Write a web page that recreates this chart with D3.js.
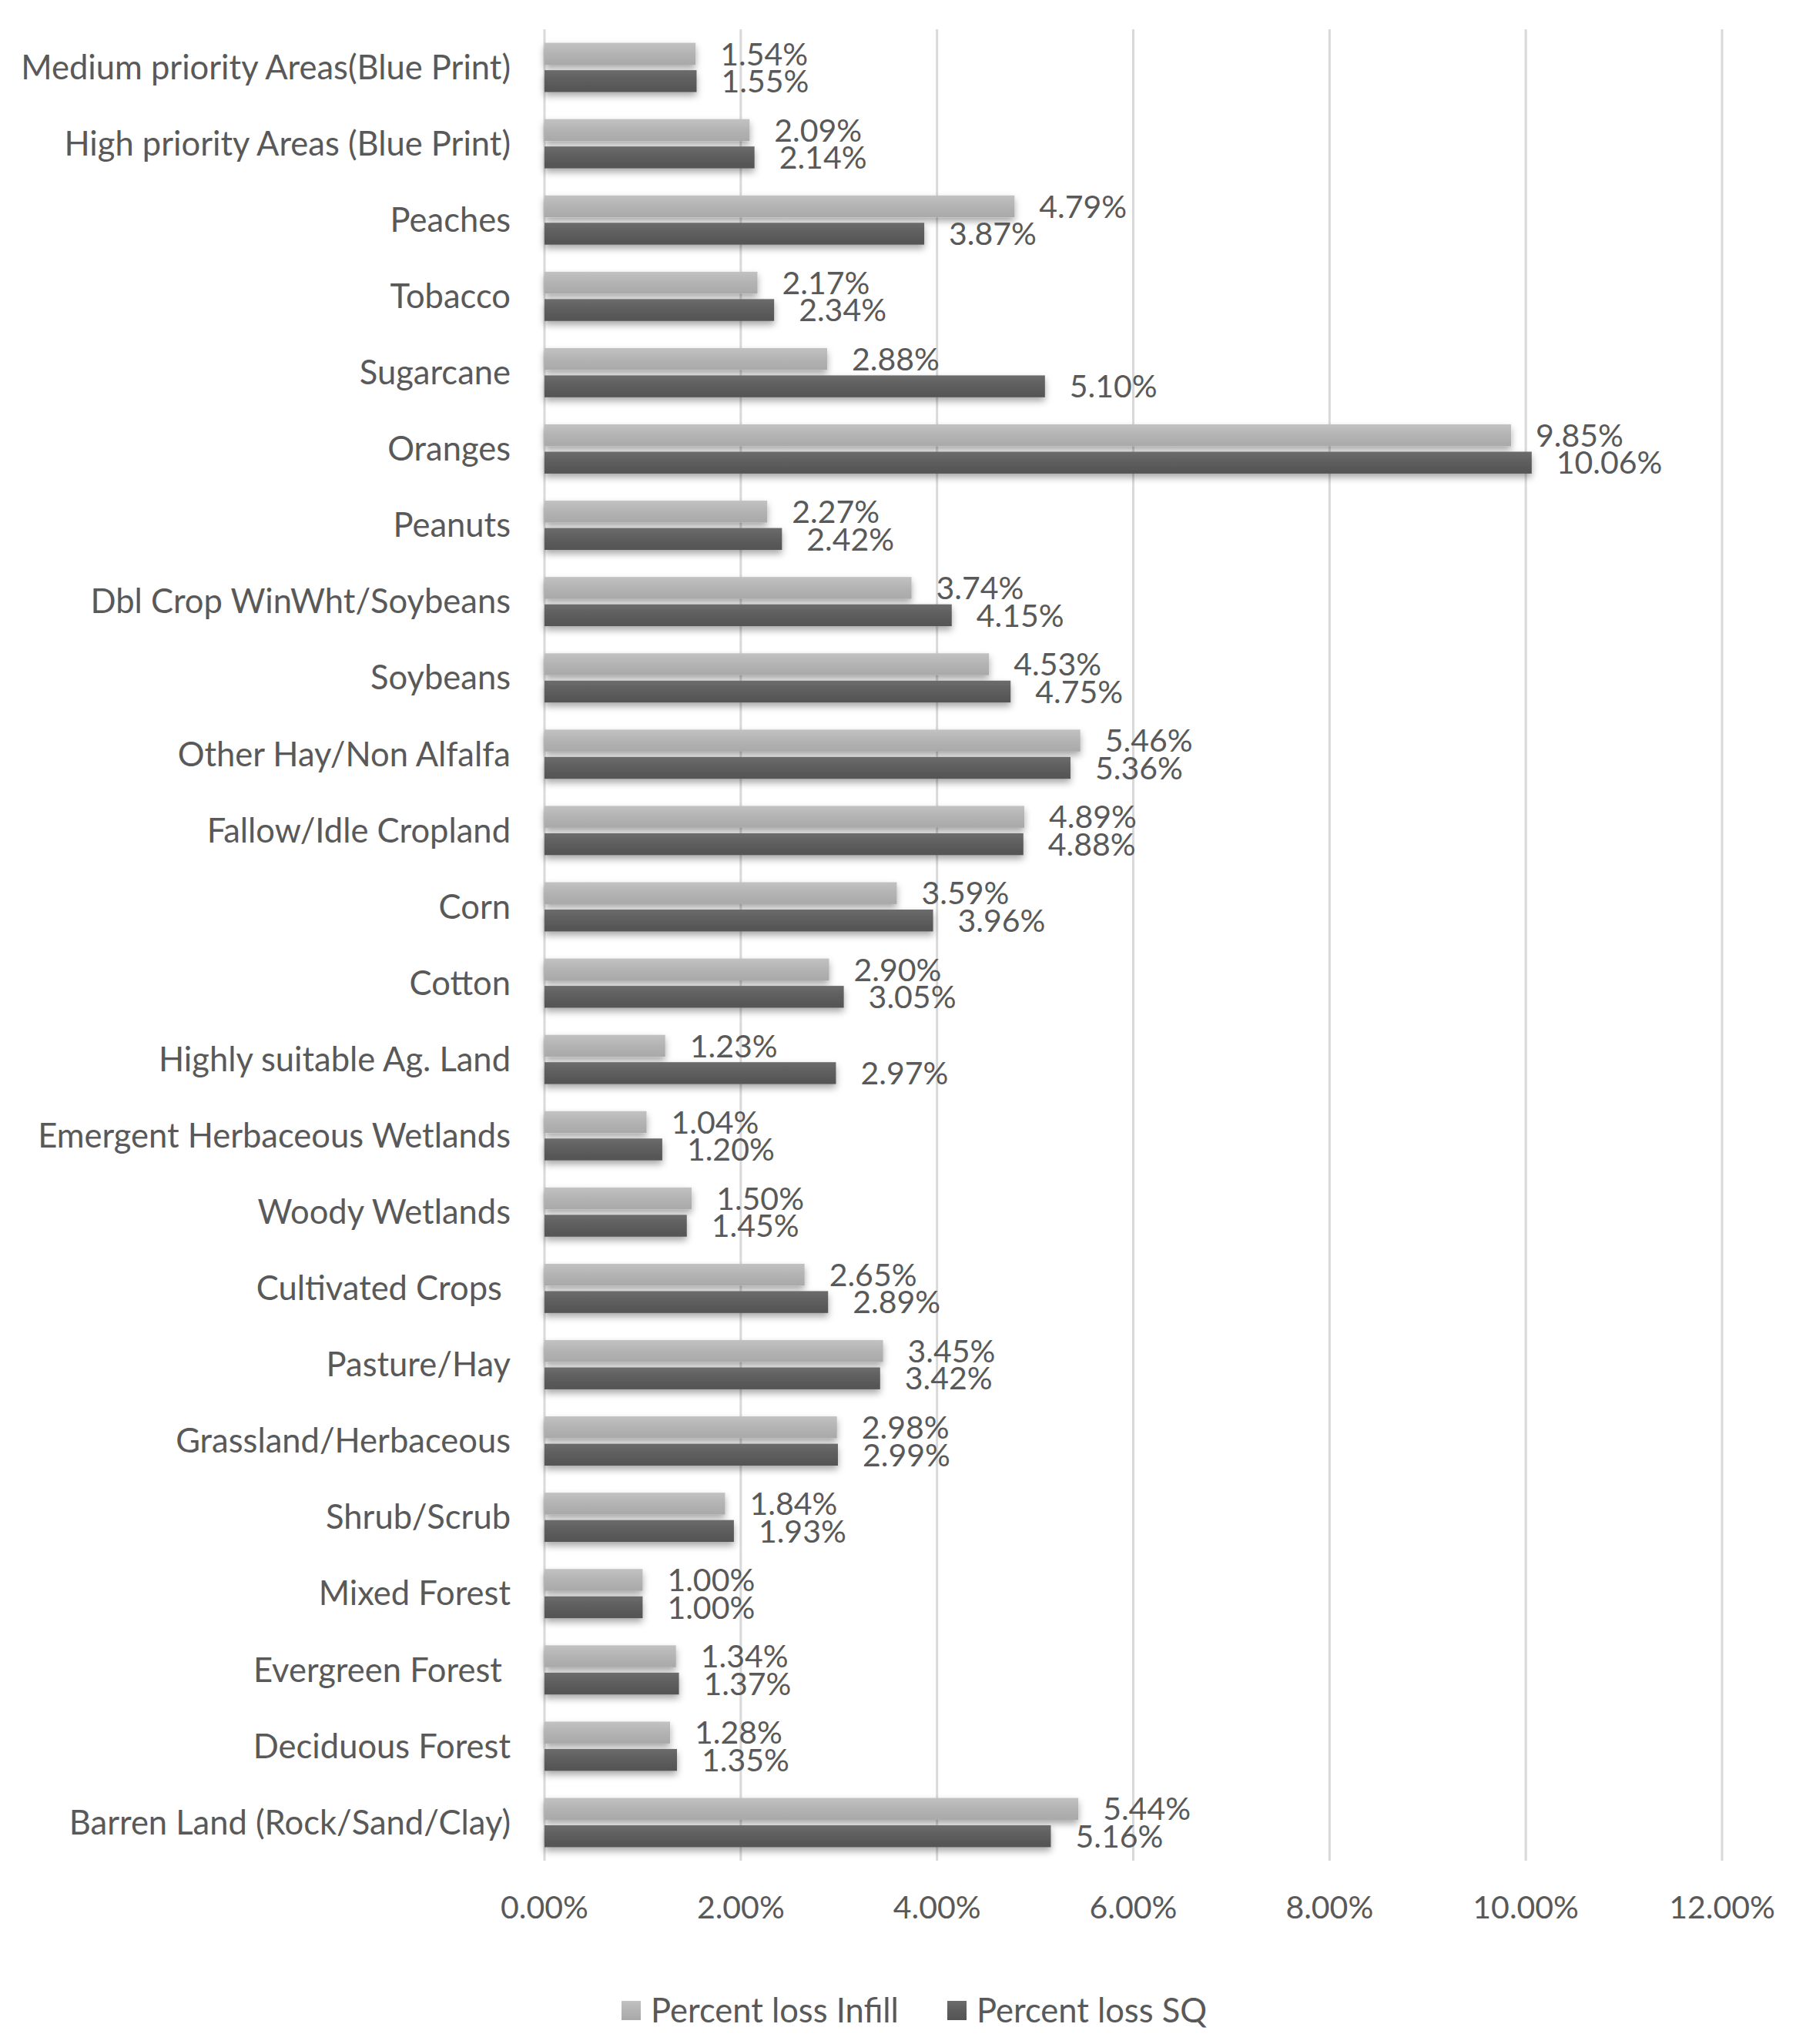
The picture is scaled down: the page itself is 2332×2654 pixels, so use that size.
<!DOCTYPE html>
<html>
<head>
<meta charset="utf-8">
<script src="https://cdn.jsdelivr.net/npm/d3@7"></script>
<style>
  body { margin: 0; background: #fff; }
  text { font-family: Lato, "Open Sans", sans-serif; fill: #595959; }
</style>
</head>
<body>
<div id="chart"></div>
<script>
// categories, top to bottom
var categories = [
  "Medium priority Areas(Blue Print)",
  "High priority Areas (Blue Print)",
  "Peaches",
  "Tobacco",
  "Sugarcane",
  "Oranges",
  "Peanuts",
  "Dbl Crop WinWht/Soybeans",
  "Soybeans",
  "Other Hay/Non Alfalfa",
  "Fallow/Idle Cropland",
  "Corn",
  "Cotton",
  "Highly suitable Ag. Land",
  "Emergent Herbaceous Wetlands",
  "Woody Wetlands",
  "Cultivated Crops ",
  "Pasture/Hay",
  "Grassland/Herbaceous",
  "Shrub/Scrub",
  "Mixed Forest",
  "Evergreen Forest ",
  "Deciduous Forest",
  "Barren Land (Rock/Sand/Clay)"
];

var lossInfill = [1.54, 2.09, 4.79, 2.17, 2.88, 9.85, 2.27, 3.74, 4.53, 5.46, 4.89, 3.59,
  2.90, 1.23, 1.04, 1.50, 2.65, 3.45, 2.98, 1.84, 1.00, 1.34, 1.28, 5.44];
var lossSQ = [1.55, 2.14, 3.87, 2.34, 5.10, 10.06, 2.42, 4.15, 4.75, 5.36, 4.88, 3.96,
  3.05, 2.97, 1.20, 1.45, 2.89, 3.42, 2.99, 1.93, 1.00, 1.37, 1.35, 5.16];

var seriesNames = ["Percent loss Infill", "Percent loss SQ"];
var xTicks = [0, 2, 4, 6, 8, 10, 12];

var W = 2332, H = 2654;
var margin = {top: 38, right: 96, bottom: 238, left: 707};
var width = W - margin.left - margin.right,
    height = H - margin.top - margin.bottom;

var data = categories.map(function(c, i) {
  return {cat: c, vals: [lossInfill[i], lossSQ[i]]};
});

var xScale = d3.scaleLinear().domain([0, 12]).range([0, width]);
var yScale = d3.scaleBand()
  .domain(categories)
  .range([0, height])
  .paddingInner(0.355)
  .paddingOuter(0.1775);
var ySub = d3.scaleBand()
  .domain([0, 1])
  .range([0, yScale.bandwidth()])
  .paddingInner(0.2);

var svg = d3.select("#chart").append("svg")
  .attr("width", W)
  .attr("height", H);

var defs = svg.append("defs");
var grads = [["#c2c2c2", "#b3b3b3", "#a9a9a9"], ["#6c6c6c", "#5d5d5d", "#545454"]];
grads.forEach(function(c, i) {
  var g = defs.append("linearGradient").attr("id", "grad" + i)
    .attr("x1", 0).attr("y1", 0).attr("x2", 0).attr("y2", 1);
  g.append("stop").attr("offset", "0%").attr("stop-color", c[0]);
  g.append("stop").attr("offset", "50%").attr("stop-color", c[1]);
  g.append("stop").attr("offset", "100%").attr("stop-color", c[2]);
});
defs.append("filter").attr("id", "shadow")
  .attr("x", "-5%").attr("y", "-40%").attr("width", "115%").attr("height", "200%")
  .append("feDropShadow")
  .attr("dx", 0).attr("dy", 5).attr("stdDeviation", 5)
  .attr("flood-color", "#000").attr("flood-opacity", 0.35);

var g = svg.append("g")
  .attr("transform", "translate(" + margin.left + "," + margin.top + ")");

// gridlines
g.selectAll(".grid")
  .data(xTicks)
  .enter().append("line")
  .attr("x1", function(d) { return xScale(d); })
  .attr("x2", function(d) { return xScale(d); })
  .attr("y1", 0)
  .attr("y2", height)
  .attr("stroke", "#d9d9d9")
  .attr("stroke-width", 3);

// x tick labels
g.selectAll(".tick-label")
  .data(xTicks)
  .enter().append("text")
  .attr("x", function(d) { return xScale(d); })
  .attr("y", height + 61)
  .attr("dy", "0.35em")
  .attr("text-anchor", "middle")
  .attr("font-size", "41px")
  .text(function(d) { return d.toFixed(2) + "%"; });

// category labels
g.selectAll(".cat")
  .data(categories)
  .enter().append("text")
  .attr("xml:space", "preserve")
  .attr("x", -44)
  .attr("y", function(d) { return yScale(d) + yScale.bandwidth() / 2; })
  .attr("dy", "0.35em")
  .attr("text-anchor", "end")
  .attr("font-size", "43.5px")
  .text(function(d) { return d; });

var grp = g.selectAll(".grp")
  .data(data)
  .enter().append("g")
  .attr("transform", function(d) { return "translate(0," + yScale(d.cat) + ")"; });

// bars
grp.selectAll("rect")
  .data(function(d) { return d.vals; })
  .enter().append("rect")
  .attr("x", 0)
  .attr("y", function(d, i) { return ySub(i); })
  .attr("width", function(d) { return xScale(d); })
  .attr("height", ySub.bandwidth())
  .attr("fill", function(d, i) { return "url(#grad" + i + ")"; })
  .attr("filter", "url(#shadow)");

// value labels
grp.selectAll(".val")
  .data(function(d) { return d.vals; })
  .enter().append("text")
  .attr("x", function(d) { return xScale(d) + 32; })
  .attr("y", function(d, i) { return ySub(i) + ySub.bandwidth() / 2; })
  .attr("dy", "0.36em")
  .attr("font-size", "41px")
  .text(function(d) { return d.toFixed(2) + "%"; });

// legend
var legendX = [807, 1230];
var legend = svg.selectAll(".legend")
  .data(seriesNames)
  .enter().append("g")
  .attr("transform", function(d, i) { return "translate(" + legendX[i] + ",2611)"; });
legend.append("rect")
  .attr("x", 0).attr("y", -13)
  .attr("width", 25).attr("height", 25)
  .attr("fill", function(d, i) { return "url(#grad" + i + ")"; });
legend.append("text")
  .attr("x", 38)
  .attr("y", 0)
  .attr("dy", "0.35em")
  .attr("font-size", "43.5px")
  .text(function(d) { return d; });
</script>
</body>
</html>
